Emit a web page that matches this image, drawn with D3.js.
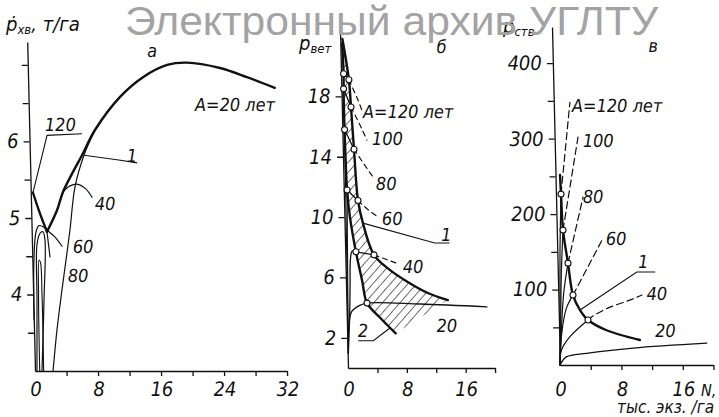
<!DOCTYPE html>
<html><head><meta charset="utf-8">
<script src="https://cdn.jsdelivr.net/npm/d3@7"></script>
<style>
body{margin:0;background:#fff}
svg{display:block;background:#fff}
text{font-family:"Liberation Sans Narrow","DejaVu Sans Condensed","Liberation Sans",sans-serif;font-style:italic;fill:#111}
.tick text{font-size:20px}
.lab{font-size:18px}
.wm{font-family:"Liberation Sans",Arial,sans-serif;font-style:normal;fill:#a3a3a3}
</style></head><body>
<svg id="c" width="719" height="417"></svg>
<script>
// ================= DATA =================
// ---- Panel а : P_хв (т/га) vs N (тыс. экз./га)
const aTicksY = [3.5,4,4.5,5,5.5,6,6.5,7];
const aLabelsY = [4,5,6];
const aTicksX = [0,4,8,12,16,20,24,28,32];
const aLabelsX = [0,8,16,24,32];
const aAge20 = [[1.94,4.82],[3.28,5.10],[4.09,5.34],[5.3,5.58],[6.62,5.82],[8.34,6.15],[11.6,6.58],[14.6,6.84],[17.7,7.0],[20.2,7.03],[24.4,6.96],[27.8,6.84],[31.3,6.70]];
const aVee = [[0.28,5.33],[1.1,5.06],[1.94,4.82]];
const aVeeTail = [[1.94,4.82],[2.25,4.49]];
const aCurve1 = [[8.34,6.15],[6.87,5.82],[5.64,5.41],[4.86,4.84],[4.27,4.45],[3.67,4.06],[2.92,3.54],[2.29,3.0]];
const aAge40 = [[4.09,5.34],[5.0,5.42],[6.02,5.44],[7.0,5.38],[7.76,5.27]];
const aAge60 = [[0.03,3.67],[0.2,4.45],[0.55,4.82],[0.94,4.9],[1.57,4.88],[2.2,4.82],[2.95,4.75],[3.81,4.63]];
const aAge80 = [[0.25,3.0],[0.47,3.93],[0.63,4.65],[1.05,4.80],[1.43,4.82],[1.66,4.71],[1.36,3.93],[0.89,3.0]];
const aAge100 = [[0.6,3.0],[0.68,4.0],[0.85,4.45],[1.02,4.42],[1.12,4.0],[1.1,3.0]];
const aLead120 = [[6.68,6.10],[2.24,6.08],[0.28,5.33]];
const aLead1 = [[6.87,5.82],[11.05,5.76],[13.6,5.72]];
const aText = [["A=20 лет",21.1,6.40],["120",2.0,6.14],["1",12.3,5.73],["40",8.1,5.1],["60",5.18,4.54],["80",4.46,4.16],["а",15.2,7.1]];

// ---- Panel б : P_вет vs N
const bTicksY = [2,6,10,14,18];
const bLabelsY = [2,6,10,14,18];
const bTicksX = [0,4,8,12,16,20];
const bLabelsX = [0,8,16];
const bRight = [[0.3,21.8],[1.05,19.1],[1.25,17.3],[1.52,14.5],[1.9,11.1],[2.5,9.6],[3.9,7.5],[6.0,6.5],[8.4,5.7],[11.1,4.97],[13.8,4.5]];
const bLeft = [[0.25,21.5],[0.35,19.5],[0.3,18.5],[0.3,15.8],[0.45,11.8],[0.75,10],[1.45,7.7],[2.2,5.8],[2.8,4.3],[4.4,3.4],[6.6,2.3]];
const bLeftN = [0.35,0.3,0.3,0.45,1.45,2.8];
const bLeftP = [19.5,18.5,15.8,11.8,7.7,4.3];
const bRightN = [1.05,1.25,1.52,1.9,3.9];
const bRightP = [19.1,17.3,14.5,11.1,7.5];
const bCurve20 = [[0.1,1.0],[0.3,3.0],[0.7,3.75],[1.8,4.15],[2.8,4.3],[10,4.24],[19.1,4.05]];
const bCurve40 = [[0.1,1.0],[0.4,3.5],[0.55,5.5],[0.7,7.3],[0.95,7.75],[1.45,7.7]];
const bRise60 = [[0.1,1.0],[0.25,6],[0.45,11.8]];
const bRise80 = [[0.1,1.0],[0.2,8],[0.3,15.8]];
const bDash120 = [[1.05,19.1],[2.27,17.7],[2.7,17.1]];
const bDash100 = [[1.25,17.3],[2.6,15.9],[3.3,15.1]];
const bDash80 = [[1.52,14.5],[3.4,13.1],[3.97,12.7]];
const bDash60 = [[1.9,11.1],[3.2,10.5],[4.3,10.1]];
const bDash40 = [[3.9,7.5],[6.9,6.95]];
const bLead1 = [[2.5,9.6],[12.2,8.28],[14.2,8.28]];
const bLead2 = [[1.49,1.81],[3.53,1.81],[5.8,2.63]];
const bText = [["A=120 лет",2.85,16.6],["100",4.0,14.8],["80",4.4,11.8],["60",5.1,9.5],["40",7.8,6.3],["20",12.2,2.4],["1",13.1,8.4],["2",1.47,2.05],["б",13.1,20.9]];

// ---- Panel в : P_ств vs N
const vTicksY = [50,100,150,200,250,300,350,400];
const vLabelsY = [100,200,300,400];
const vTicksX = [0,4,8,12,16,20];
const vLabelsX = [0,8,16];
const vMax = [[0.59,252],[0.66,226.5],[0.81,178.8],[1.36,135],[1.91,92.7],[2.78,72.8],[3.79,59.6],[6.1,46.4],[10.5,33.1]];
const vCircN = [0.66,0.81,1.36,1.91,3.79];
const vCircP = [226.5,178.8,135,92.7,59.6];
const vRise120 = [[0,0],[0.15,60],[0.35,150],[0.66,226.5]];
const vRise100 = [[0,0],[0.2,50],[0.45,120],[0.81,178.8]];
const vRise80 = [[0,0],[0.25,40],[0.7,95],[1.36,135]];
const vRise60 = [[0,0],[0.3,40],[1.0,75],[1.91,92.7]];
const vRise40 = [[0,0],[0.25,20],[1.39,37.5],[3.79,59.6]];
const vCurve20 = [[0,0],[0.3,5],[0.9,11],[3.5,15.5],[9.6,22.5],[19.2,29]];
const vDash120 = [[0.66,226.5],[2.1,348]];
const vDash100 = [[0.81,178.8],[3.05,302]];
const vDash80 = [[1.36,135],[3.52,222.5]];
const vDash60 = [[1.91,92.7],[5.87,165.6]];
const vDash40 = [[3.79,59.6],[4.3,64],[6.4,75.4],[9.4,86.3],[10.9,92.7]];
const vLead1 = [[2.78,72.8],[10.3,123.2],[12.7,123.2]];
const vText = [["A=120 лет",2.35,335],["100",3.67,288.7],["80",3.5,214.6],["60",6.36,159],["1",10.5,128.5],["40",11.5,86],["20",12.5,37],["в",12.5,414.6]];

// ================= DRAW =================
const svg = d3.select('#c');
const INK = '#111';
const SKEW = Math.atan(0.0237)*180/Math.PI;

const defs = svg.append('defs');
defs.append('pattern').attr('id','hatch').attr('patternUnits','userSpaceOnUse')
  .attr('width',6.5).attr('height',6.5).attr('patternTransform','rotate(42)')
  .append('line').attr('x1',0).attr('y1',0).attr('x2',0).attr('y2',6.5)
  .attr('stroke',INK).attr('stroke-width',1.2);

function panel(o){
  const g = svg.append('g').attr('transform',`translate(0,${o.y0}) skewX(${SKEW}) translate(0,${-o.y0})`);
  const x = d3.scaleLinear().domain(o.xDom).range(o.xRange);
  const y = d3.scaleLinear().domain(o.yDom).range([o.y0,o.yTop]);
  const ya = d3.axisLeft(y).tickValues(o.yTicks).tickSize(6).tickSizeOuter(0).tickPadding(5)
    .tickFormat(v=>o.yLabels.includes(v)?String(v):'');
  const yg = g.append('g').attr('transform',`translate(${x(0)},0)`).call(ya);
  const xa = d3.axisBottom(x).tickValues(o.xTicks).tickSize(5).tickSizeOuter(0).tickPadding(o.xPad)
    .tickFormat(v=>o.xLabels.includes(v)?String(v):'');
  const xg = g.append('g').attr('transform',`translate(0,${o.y0})`).call(xa);
  xg.selectAll('.tick').filter(d=>d===0).select('line').remove();
  [yg,xg].forEach(a=>{a.attr('font-family',null).attr('font-size',null);
    a.selectAll('path,line').attr('stroke',INK).attr('stroke-width',1.3);
    a.selectAll('text').attr('fill',INK);});
  const line = d3.line().x(d=>x(d[0])).y(d=>y(d[1])).curve(d3.curveCatmullRom.alpha(0.5));
  const api = {
    g,x,y,line,
    path(data,w,dash){const p=g.append('path').attr('d',line(data)).attr('fill','none')
      .attr('stroke',INK).attr('stroke-width',w).attr('stroke-linejoin','round').attr('stroke-linecap','round');
      if(dash) p.attr('stroke-dasharray',dash); return p;},
    poly(data,w){return g.append('path').attr('d',d3.line().x(d=>x(d[0])).y(d=>y(d[1]))(data))
      .attr('fill','none').attr('stroke',INK).attr('stroke-width',w);},
    circles(ns,ps){g.selectAll(null).data(ns).enter().append('circle')
      .attr('cx',(d,i)=>x(d)).attr('cy',(d,i)=>y(ps[i])).attr('r',3)
      .attr('fill','#fff').attr('stroke',INK).attr('stroke-width',1.1);},
    texts(arr){g.selectAll(null).data(arr).enter().append('text').attr('class','lab')
      .attr('x',d=>x(d[1])).attr('y',d=>y(d[2])).text(d=>d[0]);}
  };
  return api;
}

// ---- Panel а
const A = panel({xDom:[0,32],xRange:[35,287],yDom:[3,7.3],y0:371,yTop:42,
  yTicks:aTicksY,yLabels:aLabelsY,xTicks:aTicksX,xLabels:aLabelsX,xPad:6});
A.path(aAge20,2.4);
A.path(aVee,2.4);
A.path(aVeeTail,1.2);
A.path(aCurve1,1.2);
A.path(aAge40,1.2);
A.path(aAge60,1.2);
A.path(aAge80,1.2);
A.path(aAge100,1.1);
A.poly(aLead120,1.1);
A.poly(aLead1,1.1);
A.texts(aText);

// ---- Panel б
const B = panel({xDom:[0,20],xRange:[348,495],yDom:[0,22.4],y0:368,yTop:30,
  yTicks:bTicksY,yLabels:bLabelsY,xTicks:bTicksX,xLabels:bLabelsX,xPad:9});
(function(){
  const r = B.line(bRight);
  const l = B.line(bLeft.slice().reverse()).replace(/^M/,'L');
  B.g.append('path').attr('d',r+l+'Z').attr('fill','url(#hatch)').attr('stroke','none');
})();
B.path(bRight,2.4);
B.path(bLeft,2.4);
B.path(bCurve20,1.3);
B.path(bCurve40,1.3);
B.path(bRise60,1.1);
B.path(bRise80,1.1);
bLeftN.slice(0,5).forEach((n,i)=>B.poly([[n,bLeftP[i]],[bRightN[i],bRightP[i]]],1.3));
[bDash120,bDash100,bDash80,bDash60,bDash40].forEach(d=>B.path(d,1.2,'5,4'));
B.poly(bLead1,1.1);
B.poly(bLead2,1.1);
B.circles(bLeftN,bLeftP);
B.circles(bRightN,bRightP);
B.texts(bText);

// ---- Panel в
const V = panel({xDom:[0,20],xRange:[560,713.4],yDom:[0,448],y0:365,yTop:27,
  yTicks:vTicksY,yLabels:vLabelsY,xTicks:vTicksX,xLabels:vLabelsX,xPad:12});
[vRise120,vRise100,vRise80,vRise60,vRise40].forEach(d=>V.path(d,1.2));
V.path(vCurve20,1.3);
V.path(vMax,2.4);
[vDash120,vDash100,vDash80,vDash60,vDash40].forEach(d=>V.path(d,1.2,'7,4'));
V.poly(vLead1,1.1);
V.circles(vCircN,vCircP);
V.texts(vText);

// ---- Titles (axis names)
function title(xp,yp,main,sub,rest){
  const t = svg.append('text').attr('x',xp).attr('y',yp).attr('font-size',20);
  t.append('tspan').text(main);
  t.append('tspan').attr('font-size',13).attr('dy',3).text(sub);
  if(rest) t.append('tspan').attr('dy',-3).text(rest);
}
title(6,31,'ṗ','хв',', т/га');
title(299,50,'p','вет');
title(503,33,'p','ств');
svg.append('text').attr('x',701).attr('y',396).attr('font-size',16).text('N,');
svg.append('text').attr('x',617).attr('y',413).attr('font-size',17).text('тыс. экз. /га');

// ---- Watermark
svg.append('text').attr('class','wm').attr('x',125).attr('y',35).attr('font-size',40)
  .attr('textLength',533).attr('lengthAdjust','spacingAndGlyphs').text('Электронный архив УГЛТУ');
</script>
</body></html>
